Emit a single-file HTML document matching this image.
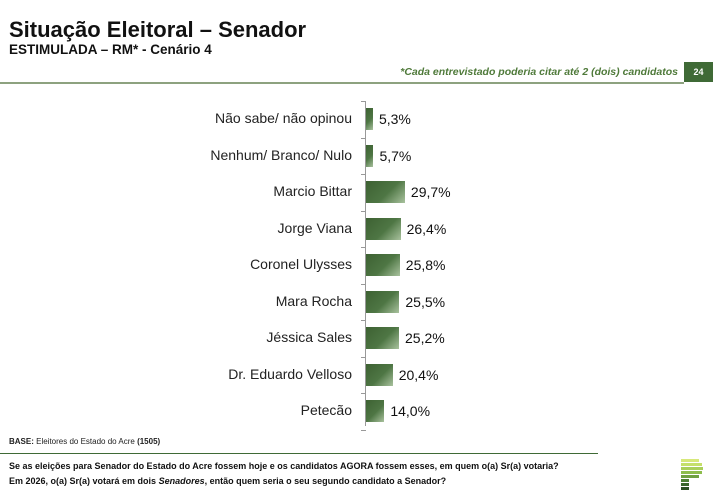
<!DOCTYPE html>
<html><head><meta charset="utf-8"><style>
body{margin:0;width:713px;height:496px;background:#fff;font-family:"Liberation Sans",sans-serif;position:relative;overflow:hidden}
.a{position:absolute;white-space:nowrap}
.lbl{position:absolute;right:361px;font-size:14px;color:#222;text-align:right}
.bar{position:absolute;left:366px;height:22px;background:linear-gradient(135deg,#3d6132 0%,#4e7644 55%,#a9c29e 100%)}
.val{position:absolute;font-size:14px;color:#111}
.tick{position:absolute;left:361px;width:5px;height:1px;background:#999}
</style></head><body>
<div class="a" style="left:9px;top:17px;font-size:22px;font-weight:bold;color:#111">Situação Eleitoral – Senador</div>
<div class="a" style="left:9px;top:42px;font-size:13.5px;font-weight:bold;color:#111">ESTIMULADA – RM* - Cenário 4</div>
<div class="a" style="right:35px;top:66px;font-size:10.5px;font-style:italic;font-weight:bold;color:#4f7a3a">*Cada entrevistado poderia citar até 2 (dois) candidatos</div>
<div class="a" style="left:684px;top:62px;width:29px;height:20px;background:#3f6a36;color:#fff;font-size:9px;font-weight:bold;text-align:center;line-height:20px">24</div>
<div class="a" style="left:0;top:82px;width:684px;height:2px;background:#8da27f"></div>
<div class="a" style="left:365px;top:101px;width:1px;height:325px;background:#999"></div>
<div id="c"></div>
<div class="a" style="left:9px;top:437px;font-size:8px;color:#222"><b>BASE:</b> Eleitores do Estado do Acre <b>(1505)</b></div>
<div class="a" style="left:0;top:453px;width:598px;height:1px;background:#3f6a36"></div>
<div class="a" style="left:9px;top:459px;font-size:9px;font-weight:bold;color:#111;line-height:15px">Se as eleições para Senador do Estado do Acre fossem hoje e os candidatos AGORA fossem esses, em quem o(a) Sr(a) votaria?<br>Em 2026, o(a) Sr(a) votará em dois <i>Senadores</i>, então quem seria o seu segundo candidato a Senador?</div>
<div class="a" style="left:681px;top:459px;width:22px">
<div style="height:3px;background:#d7e87a;margin-bottom:1px;width:18px"></div>
<div style="height:3px;background:#c5df6a;margin-bottom:1px;width:21px"></div>
<div style="height:3px;background:#a9cf5a;margin-bottom:1px;width:22px"></div>
<div style="height:3px;background:#8dbd4c;margin-bottom:1px;width:21px"></div>
<div style="height:3px;background:#6fa040;margin-bottom:1px;width:18px"></div>
<div style="height:3px;background:#4e8035;margin-bottom:1px;width:8px"></div>
<div style="height:3px;background:#3a662c;margin-bottom:1px;width:8px"></div>
<div style="height:3px;background:#2b4f22;width:8px"></div>
</div>
<script>
var d=[["Não sabe/ não opinou",5.3],["Nenhum/ Branco/ Nulo",5.7],["Marcio Bittar",29.7],["Jorge Viana",26.4],["Coronel Ulysses",25.8],["Mara Rocha",25.5],["Jéssica Sales",25.2],["Dr. Eduardo Velloso",20.4],["Petecão",14.0]];
var h="";
d.forEach(function(r,i){var c=119+i*36.5;var w=r[1]*1.31;
h+='<div class="lbl" style="top:'+(c-9)+'px">'+r[0]+'</div>';
h+='<div class="bar" style="top:'+(c-11)+'px;width:'+w+'px"></div>';
h+='<div class="val" style="top:'+(c-8)+'px;left:'+(366+w+6)+'px">'+r[1].toFixed(1).replace(".",",")+'%</div>';
h+='<div class="tick" style="top:'+Math.round(c-18)+'px"></div>';});
h+='<div class="tick" style="top:'+Math.round(119+9*36.5-18)+'px"></div>';
document.getElementById("c").innerHTML=h;
</script>
</body></html>
